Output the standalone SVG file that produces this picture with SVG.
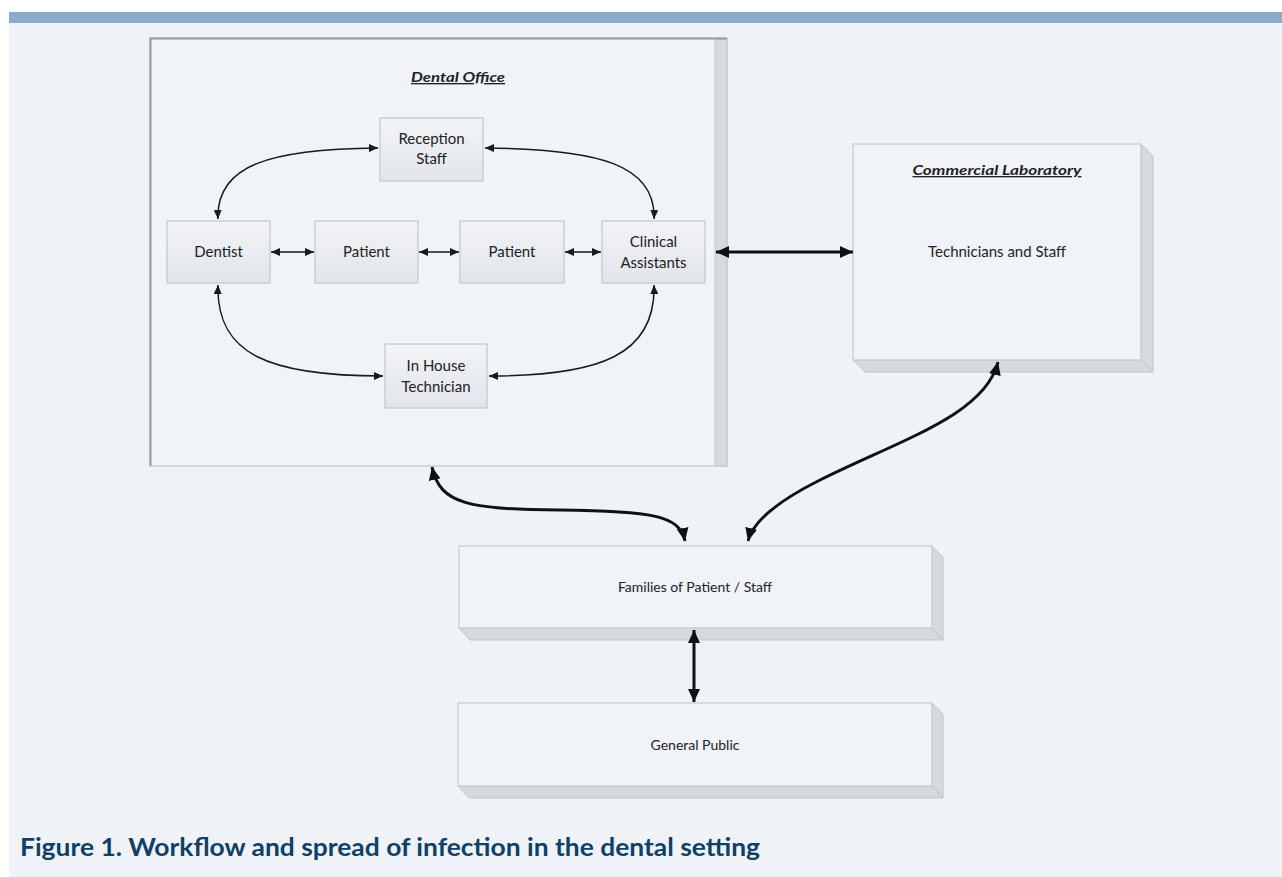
<svg xmlns="http://www.w3.org/2000/svg" width="1282" height="877" viewBox="0 0 1282 877">
<style>
.t{font-family:Lato,"Liberation Sans",sans-serif;font-size:15px;fill:#222;text-anchor:middle}
.h{font-family:Lato,"Liberation Sans",sans-serif;font-size:13.5px;font-weight:bold;font-style:italic;text-decoration:underline;fill:#222;text-anchor:middle}
.n{fill:url(#ng);stroke:#c4c6ca;stroke-width:1.2}
.face{fill:#f0f3f8;stroke:#c7cacf;stroke-width:1.2}
.ext{fill:#d6dadf;stroke:#c2c5ca;stroke-width:1}
.c{fill:none;stroke:#1a1a1a;stroke-width:1.5;marker-start:url(#a);marker-end:url(#a)}
.k{fill:none;stroke:#111;stroke-width:3;marker-start:url(#b);marker-end:url(#b)}
</style>
<defs>
<linearGradient id="ng" x1="0" y1="0" x2="0" y2="1">
<stop offset="0" stop-color="#f2f4f7"/>
<stop offset="1" stop-color="#e1e4e9"/>
</linearGradient>
<marker id="a" markerUnits="userSpaceOnUse" markerWidth="9" markerHeight="8" refX="9" refY="4" orient="auto-start-reverse" viewBox="0 0 9 8">
<path d="M0,0 L9,4 L0,8 z" fill="#1a1a1a"/>
</marker>
<marker id="b" markerUnits="userSpaceOnUse" markerWidth="13" markerHeight="12" refX="13" refY="6" orient="auto-start-reverse" viewBox="0 0 13 12">
<path d="M0,0 L13,6 L0,12 z" fill="#111"/>
</marker>
</defs>
<rect x="0" y="0" width="1282" height="877" fill="#ffffff"/>
<rect x="9" y="23" width="1273" height="854" fill="#eff3f8"/>
<rect x="9" y="12" width="1273" height="11" fill="#8eaacb"/>

<g id="dental-office">
<rect x="150" y="38" width="577" height="428" fill="#f0f4f9" stroke="#c4c7cb" stroke-width="1.2"/>
<rect x="715" y="39" width="12" height="427" fill="#d6dadf" stroke="#c4c7cb" stroke-width="1"/>
<path d="M150.5,466 L150.5,38.5 L727,38.5" fill="none" stroke="#9a9ea4" stroke-width="2"/>
<text class="h" x="458" y="82" textLength="94" lengthAdjust="spacingAndGlyphs">Dental Office</text>
</g>
<g id="reception">
<rect class="n" x="380" y="118" width="103" height="63"/>
<text class="t" x="431.5" y="144">Reception</text>
<text class="t" x="431.5" y="164">Staff</text>
</g>
<g id="dentist">
<rect class="n" x="167" y="221" width="103" height="62"/>
<text class="t" x="218.5" y="257">Dentist</text>
</g>
<g id="patient1">
<rect class="n" x="315" y="221" width="103" height="62"/>
<text class="t" x="366.5" y="257">Patient</text>
</g>
<g id="patient2">
<rect class="n" x="460" y="221" width="104" height="62"/>
<text class="t" x="512" y="257">Patient</text>
</g>
<g id="clinical">
<rect class="n" x="602" y="221" width="103" height="62"/>
<text class="t" x="653.5" y="247">Clinical</text>
<text class="t" x="653.5" y="268">Assistants</text>
</g>
<g id="inhouse">
<rect class="n" x="385" y="344" width="102" height="64"/>
<text class="t" x="436" y="371">In House</text>
<text class="t" x="436" y="392">Technician</text>
</g>
<g id="lab">
<polygon class="ext" points="1141,144 1153,156 1153,372 1141,360"/>
<polygon class="ext" points="853,360 1141,360 1153,372 865,372"/>
<rect class="face" x="853" y="144" width="288" height="216"/>
<text class="h" x="997" y="175" textLength="169" lengthAdjust="spacingAndGlyphs">Commercial Laboratory</text>
<text class="t" x="997" y="257">Technicians and Staff</text>
</g>
<g id="families">
<polygon class="ext" points="932,546 943,557 943,640 932,628"/>
<polygon class="ext" points="459,628 932,628 943,640 470,640"/>
<rect class="face" x="459" y="546" width="473" height="82"/>
<text class="t" x="695" y="592" style="font-size:14px">Families of Patient / Staff</text>
</g>
<g id="public">
<polygon class="ext" points="932,703 943,714 943,798 932,786"/>
<polygon class="ext" points="458,786 932,786 943,798 469,798"/>
<rect class="face" x="458" y="703" width="474" height="83"/>
<text class="t" x="695" y="750" style="font-size:14px">General Public</text>
</g>

<g id="connectors">
<path class="c" d="M378,148 C270,149 216,165 218,219"/>
<path class="c" d="M485,148 C600,149 656,165 654,219"/>
<path class="c" d="M218,285 C216,355 270,376 383,376"/>
<path class="c" d="M654,285 C656,355 600,376 489,376"/>
<path class="c" d="M271,252 L314,252"/>
<path class="c" d="M419,252 L459,252"/>
<path class="c" d="M565,252 L601,252"/>
<path class="k" d="M716,252 L853,252"/>
<path class="k" d="M432,467 C440,505 470,509 560,510 C650,511 680,515 685,541"/>
<path class="k" d="M998,362 C985,415 900,440 820,480 C770,505 752,525 748,541"/>
<path class="k" d="M694,630 L694,702"/>
</g>

<text x="20" y="856" font-family="Lato,'Liberation Sans',sans-serif" font-size="25" font-weight="bold" fill="#0e4068" textLength="740" lengthAdjust="spacingAndGlyphs">Figure 1. Workflow and spread of infection in the dental setting</text>
</svg>
